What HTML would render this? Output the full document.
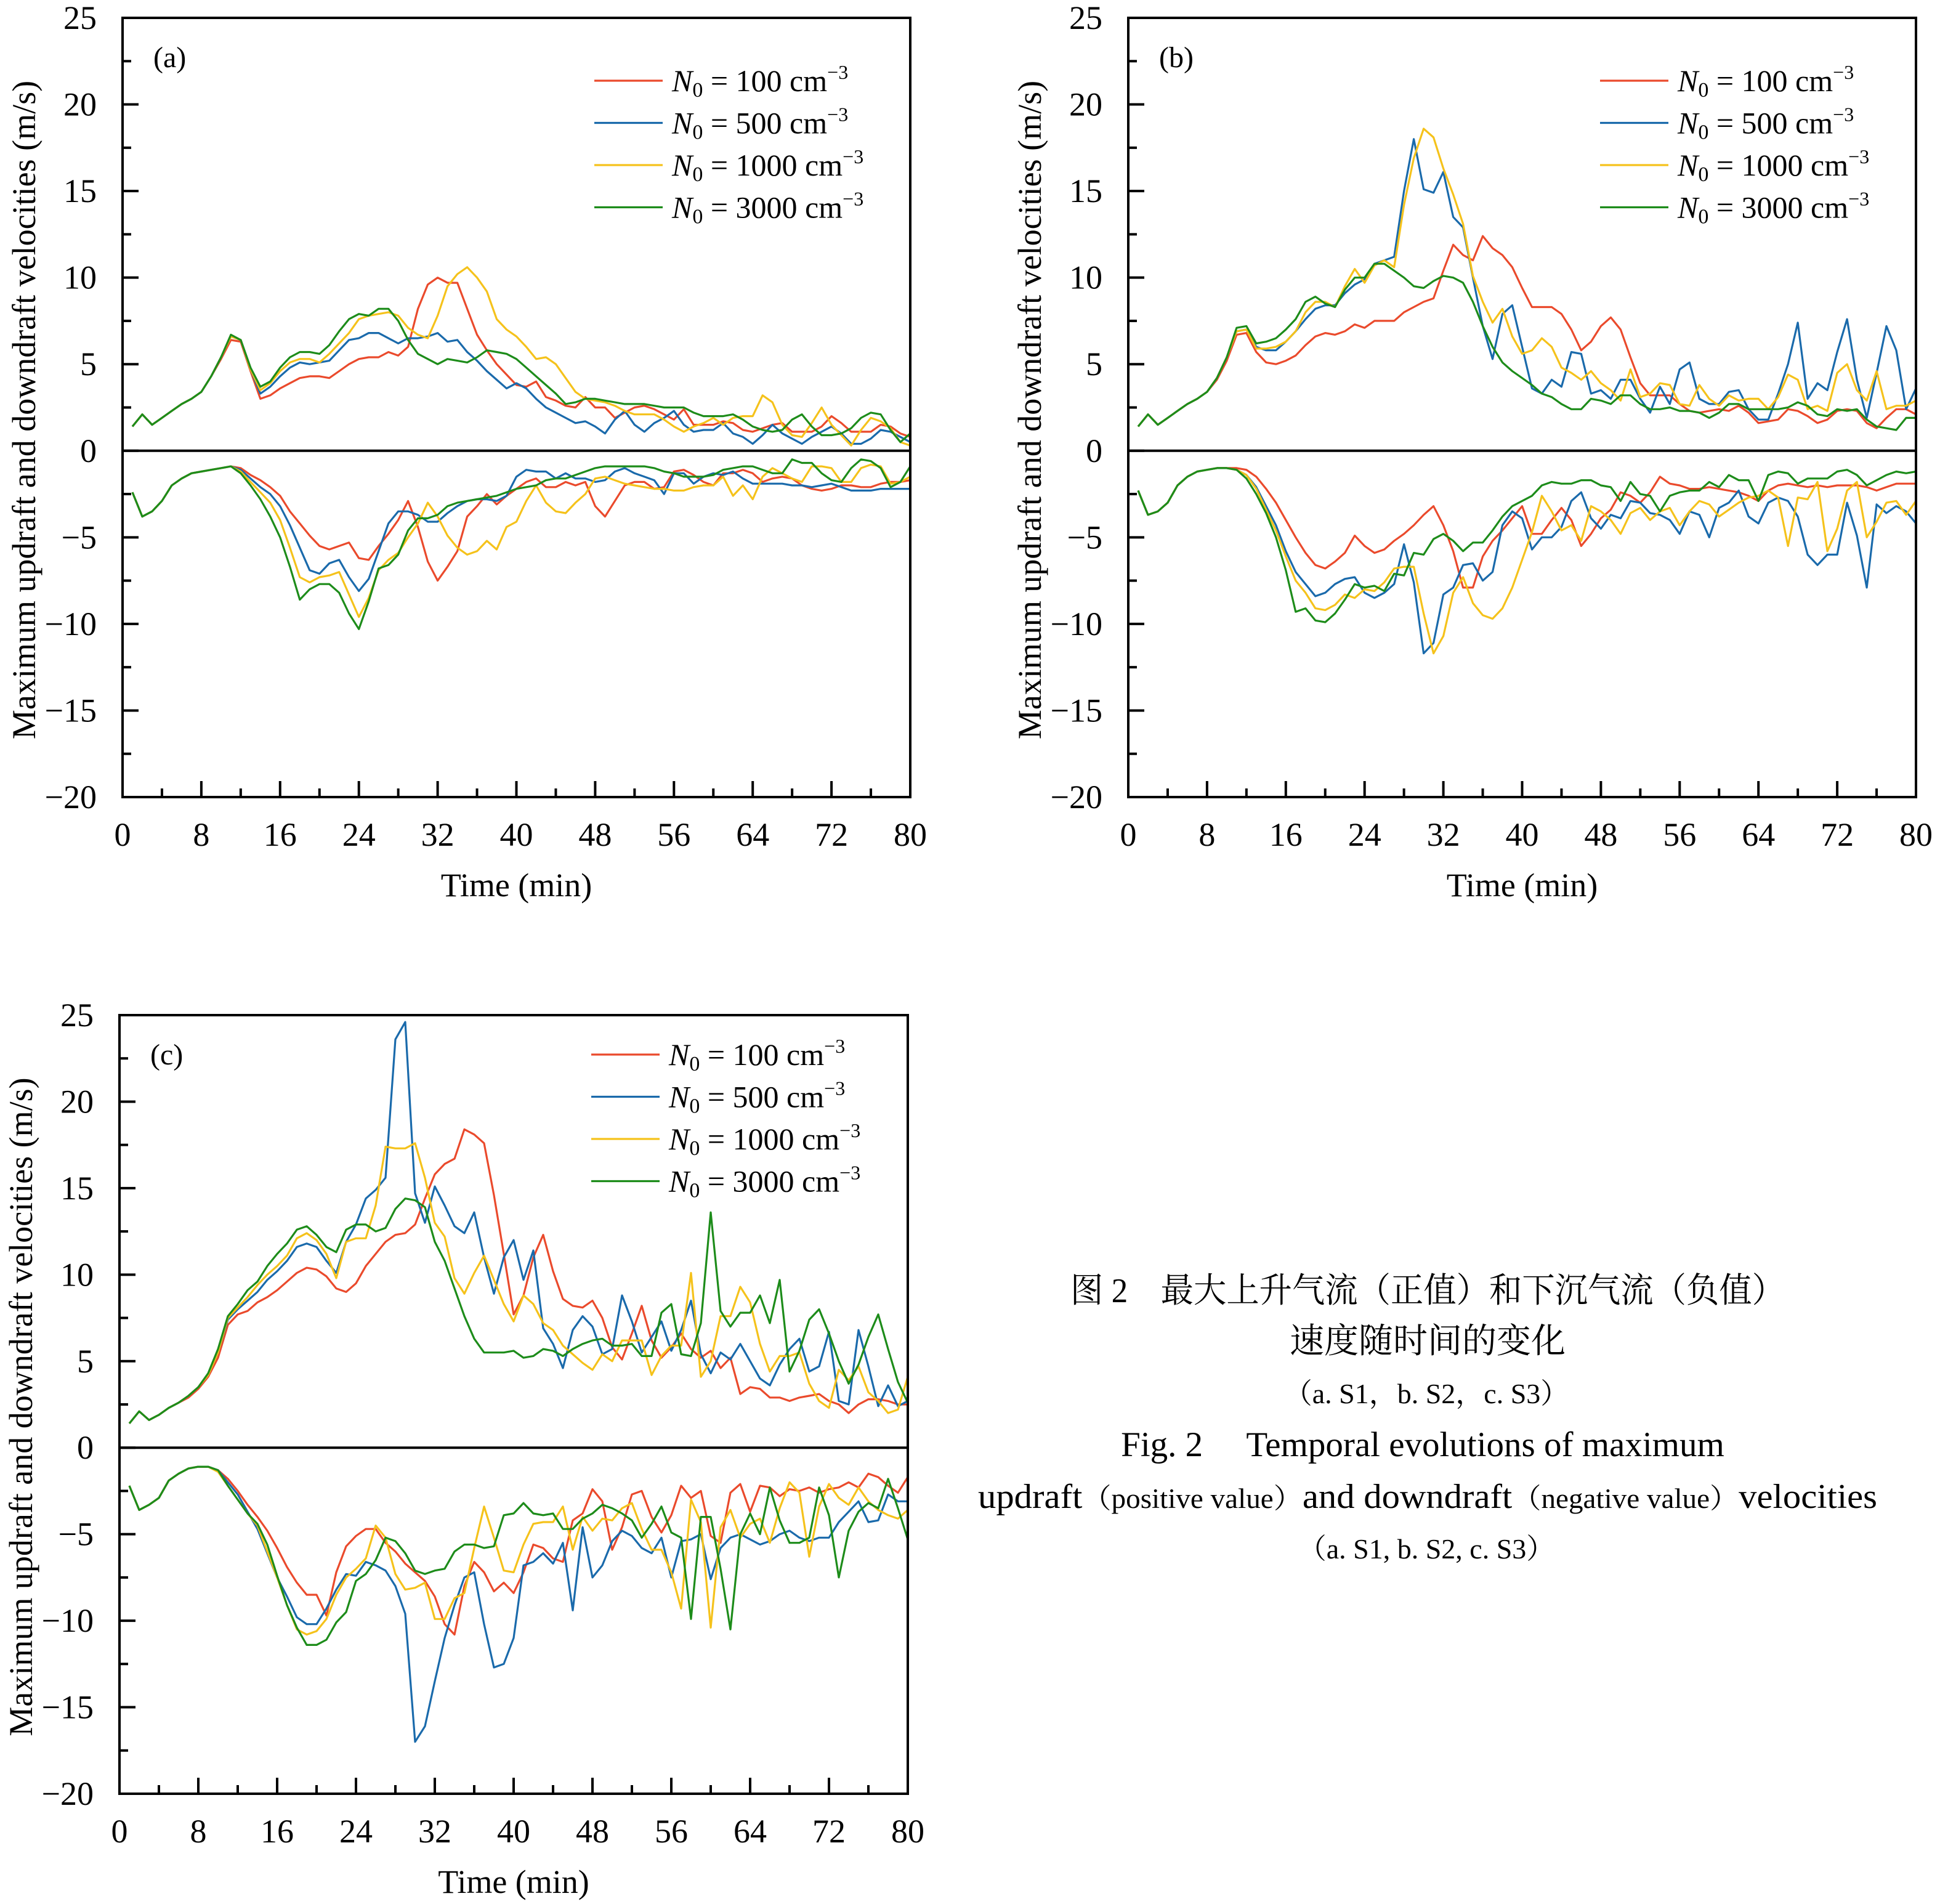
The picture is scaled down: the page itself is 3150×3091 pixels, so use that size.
<!DOCTYPE html>
<html><head><meta charset="utf-8">
<style>
html,body{margin:0;padding:0;background:#fff;}
svg{display:block;}
text,tspan{font-family:"Liberation Serif","Noto Serif CJK SC",serif;fill:#000;}
.cn{font-family:"Liberation Serif","Noto Serif CJK SC",serif;}
</style></head>
<body>
<svg id="fig" width="3150" height="3091" viewBox="0 0 3150 3091" xmlns="http://www.w3.org/2000/svg" font-family="Liberation Serif, Noto Serif CJK SC, serif">
<g id="caption" text-anchor="middle">
<text class="cn" x="2318" y="2114" font-size="56" textLength="1160" lengthAdjust="spacingAndGlyphs">图 2　最大上升气流（正值）和下沉气流（负值）</text>
<text class="cn" x="2318" y="2196" font-size="56">速度随时间的变化</text>
<text x="2316" y="2278" font-size="46">（a. S1，b. S2，c. S3）</text>
<text x="2310" y="2364" font-size="57">Fig. 2　 Temporal evolutions of maximum</text>
<text x="2318" y="2448" font-size="56" textLength="1460" lengthAdjust="spacingAndGlyphs">updraft<tspan font-size="45">（positive value）</tspan>and downdraft<tspan font-size="45">（negative value）</tspan>velocities</text>
<text x="2316" y="2530" font-size="46">（a. S1, b. S2, c. S3）</text>
</g>
</svg>
<script>
const times = [1,2,3,4,5,6,7,8,9,10,11,12,13,14,15,16,17,18,19,20,21,22,23,24,25,26,27,28,29,30,31,32,33,34,35,36,37,38,39,40,41,42,43,44,45,46,47,48,49,50,51,52,53,54,55,56,57,58,59,60,61,62,63,64,65,66,67,68,69,70,71,72,73,74,75,76,77,78,79,80];
const seriesNames = ["100","500","1000","3000"];
const yTicks = [25,20,15,10,5,0,-5,-10,-15,-20];
const xTicks = [0,8,16,24,32,40,48,56,64,72,80];

// Panel (a) S1
const aUp100 = [1.4,2.1,1.5,1.9,2.3,2.7,3.0,3.4,4.3,5.3, 6.4,6.3,4.6,3.0,3.2,3.6,3.9,4.2,4.3,4.3, 4.2,4.6,5.0,5.3,5.4,5.4,5.7,5.5,6.0,8.2, 9.6,10.0,9.7,9.7,8.2,6.7,5.8,5.0,4.4,3.8, 3.7,4.0,3.1,2.9,2.6,2.5,3.1,2.5,2.5,1.9, 2.2,2.5,2.6,2.4,2.1,1.8,2.4,1.5,1.5,1.5, 1.7,1.6,1.2,1.1,1.3,1.5,1.6,1.1,1.1,1.1, 1.4,2.0,1.6,1.1,1.1,1.1,1.5,1.4,1.0,0.8];
const aUp500 = [1.4,2.1,1.5,1.9,2.3,2.7,3.0,3.4,4.3,5.4, 6.6,6.4,4.7,3.3,3.7,4.3,4.8,5.1,5.0,5.1, 5.2,5.8,6.4,6.5,6.8,6.8,6.5,6.2,6.5,6.5, 6.6,6.8,6.3,6.4,5.7,5.2,4.6,4.1,3.6,3.9, 3.6,3.0,2.5,2.2,1.9,1.6,1.7,1.4,1.0,1.8, 2.3,1.5,1.1,1.6,1.9,2.3,1.5,1.1,1.2,1.2, 1.6,1.0,0.8,0.4,0.9,1.5,1.0,0.7,0.4,0.8, 1.1,1.4,1.0,0.4,0.4,0.7,1.2,1.1,0.8,0.5];
const aUp1000 = [1.4,2.1,1.5,1.9,2.3,2.7,3.0,3.4,4.3,5.4, 6.6,6.4,4.7,3.5,3.9,4.6,5.1,5.3,5.3,5.1, 5.6,6.2,6.8,7.6,7.8,7.9,8.0,7.8,7.1,6.7, 6.5,7.8,9.5,10.2,10.6,10.0,9.2,7.6,7.0,6.6, 6.0,5.3,5.4,5.0,4.2,3.4,3.0,2.9,2.8,2.6, 2.3,2.1,2.1,2.1,1.8,1.4,1.1,1.4,1.6,1.9, 1.5,1.9,2.0,2.0,3.2,2.8,1.5,0.9,0.8,1.6, 2.5,1.5,0.9,0.3,1.2,1.9,1.7,1.3,0.5,0.3];
const aUp3000 = [1.4,2.1,1.5,1.9,2.3,2.7,3.0,3.4,4.3,5.4, 6.7,6.4,4.8,3.7,4.0,4.8,5.4,5.7,5.7,5.6, 6.1,6.9,7.6,7.9,7.8,8.2,8.2,7.5,6.4,5.6, 5.3,5.0,5.3,5.2,5.1,5.4,5.8,5.7,5.6,5.3, 4.8,4.3,3.8,3.3,2.7,2.8,3.0,3.0,2.9,2.8, 2.7,2.7,2.7,2.6,2.5,2.5,2.5,2.2,2.0,2.0, 2.0,2.1,1.8,1.4,1.2,1.1,1.2,1.8,2.1,1.4, 0.9,0.9,1.0,1.3,1.9,2.2,2.1,1.2,0.5,1.0];
const aDn100 = [-2.4,-3.8,-3.5,-2.9,-2.0,-1.6,-1.3,-1.2,-1.1,-1.0, -0.9,-1.0,-1.4,-1.7,-2.1,-2.6,-3.5,-4.2,-4.9,-5.5, -5.7,-5.5,-5.3,-6.2,-6.3,-5.5,-4.8,-4.0,-2.9,-4.4, -6.4,-7.5,-6.7,-5.8,-3.8,-3.2,-2.5,-3.1,-2.6,-2.2, -1.8,-1.6,-2.1,-2.1,-1.8,-2.0,-1.8,-3.2,-3.8,-2.9, -2.0,-1.8,-1.8,-2.2,-2.1,-1.2,-1.1,-1.4,-1.8,-2.0, -1.3,-1.3,-1.1,-1.3,-1.8,-1.6,-1.5,-1.6,-2.0,-2.2, -2.3,-2.2,-2.0,-2.0,-2.1,-2.1,-1.9,-1.8,-1.8,-1.7];
const aDn500 = [-2.4,-3.8,-3.5,-2.9,-2.0,-1.6,-1.3,-1.2,-1.1,-1.0, -0.9,-1.1,-1.6,-2.1,-2.5,-3.2,-4.3,-5.6,-6.9,-7.1, -6.5,-6.3,-7.3,-8.1,-7.4,-5.8,-4.2,-3.5,-3.5,-3.7, -4.1,-4.1,-3.6,-3.2,-2.9,-2.8,-2.8,-2.9,-2.6,-1.5, -1.1,-1.2,-1.2,-1.6,-1.3,-1.6,-1.6,-1.8,-1.7,-1.2, -1.0,-1.3,-1.5,-1.7,-2.5,-1.3,-1.3,-1.9,-1.5,-1.3, -1.4,-1.2,-1.6,-1.9,-1.9,-1.9,-1.9,-2.0,-2.0,-2.1, -2.0,-1.9,-2.1,-2.3,-2.3,-2.3,-2.2,-2.2,-2.2,-2.2];
const aDn1000 = [-2.4,-3.8,-3.5,-2.9,-2.0,-1.6,-1.3,-1.2,-1.1,-1.0, -0.9,-1.2,-1.8,-2.4,-3.0,-4.0,-5.6,-7.3,-7.6,-7.3, -7.2,-7.0,-8.3,-9.6,-8.5,-6.9,-6.3,-5.9,-5.0,-4.2, -3.0,-3.8,-4.9,-5.6,-6.0,-5.8,-5.2,-5.7,-4.4,-4.1, -2.9,-2.0,-3.0,-3.5,-3.6,-3.0,-2.5,-1.6,-1.5,-1.7, -1.9,-2.0,-2.1,-2.2,-2.2,-2.3,-2.3,-2.1,-2.0,-2.0, -1.5,-2.6,-2.0,-2.8,-1.5,-1.0,-1.3,-1.6,-1.8,-0.9, -0.9,-1.0,-1.8,-1.8,-1.0,-0.8,-0.9,-1.9,-1.8,-1.5];
const aDn3000 = [-2.4,-3.8,-3.5,-2.9,-2.0,-1.6,-1.3,-1.2,-1.1,-1.0, -0.9,-1.3,-2.0,-2.8,-3.8,-5.0,-6.7,-8.6,-8.0,-7.7, -7.7,-8.2,-9.4,-10.3,-8.7,-6.8,-6.6,-6.0,-4.6,-3.9, -3.9,-3.7,-3.2,-3.0,-2.9,-2.8,-2.7,-2.6,-2.4,-2.2, -2.1,-2.0,-1.7,-1.6,-1.6,-1.4,-1.2,-1.0,-0.9,-0.9, -0.9,-0.9,-0.9,-1.0,-1.2,-1.3,-1.5,-1.5,-1.5,-1.4, -1.1,-1.0,-0.9,-0.9,-1.1,-1.3,-1.3,-0.5,-0.7,-0.7, -1.3,-1.7,-1.8,-1.0,-0.5,-0.6,-1.0,-2.1,-1.8,-0.9];

// Panel (b) S2
const bUp100 = [1.4,2.1,1.5,1.9,2.3,2.7,3.0,3.4,4.1,5.2, 6.7,6.8,5.7,5.1,5.0,5.2,5.5,6.1,6.6,6.8, 6.7,6.9,7.3,7.1,7.5,7.5,7.5,8.0,8.3,8.6, 8.8,10.4,11.9,11.3,11.0,12.4,11.7,11.3,10.6,9.4, 8.3,8.3,8.3,7.9,7.0,5.8,6.3,7.2,7.7,7.0, 5.4,3.9,3.2,3.2,3.2,2.7,2.3,2.2,2.3,2.4, 2.3,2.6,2.2,1.6,1.7,1.8,2.4,2.3,2.0,1.6, 1.8,2.3,2.4,2.3,1.6,1.3,1.9,2.4,2.4,2.1];
const bUp500 = [1.4,2.1,1.5,1.9,2.3,2.7,3.0,3.4,4.2,5.4, 6.9,7.0,6.0,5.8,5.8,6.3,6.9,7.6,8.2,8.4, 8.4,9.1,9.6,9.9,10.8,11.0,11.2,15.0,18.0,15.1, 14.9,16.1,13.5,12.9,10.0,7.2,5.3,7.9,8.4,6.0, 3.6,3.3,4.1,3.7,5.7,5.6,3.3,3.5,3.0,4.1, 4.1,3.0,2.2,3.7,2.7,4.7,5.1,3.0,2.7,2.7, 3.4,3.5,2.4,1.8,1.8,3.3,5.0,7.4,3.0,3.9, 3.5,5.7,7.6,4.1,1.9,4.5,7.2,5.8,2.4,3.6];
const bUp1000 = [1.4,2.1,1.5,1.9,2.3,2.7,3.0,3.4,4.2,5.4, 6.9,7.0,5.9,5.9,6.0,6.3,6.9,8.0,8.6,8.6, 8.3,9.5,10.5,9.7,10.7,11.0,10.6,14.2,16.9,18.6, 18.1,16.3,14.8,13.1,10.1,8.6,7.4,8.2,6.6,5.6, 5.8,6.5,6.0,4.8,4.5,4.1,4.6,3.9,3.5,2.9, 4.7,3.1,3.3,3.9,3.8,2.7,2.6,3.8,3.0,2.6, 3.2,2.9,3.0,3.0,2.4,3.1,4.4,4.1,2.4,2.6, 2.3,4.5,5.0,3.5,2.9,4.6,2.4,2.6,2.6,2.9];
const bUp3000 = [1.4,2.1,1.5,1.9,2.3,2.7,3.0,3.4,4.2,5.4, 7.1,7.2,6.2,6.3,6.5,7.0,7.6,8.6,8.9,8.5, 8.3,9.3,10.0,10.0,10.8,10.8,10.4,10.0,9.5,9.4, 9.8,10.1,10.0,9.7,8.6,7.2,6.0,5.1,4.6,4.2, 3.8,3.3,3.1,2.7,2.4,2.4,3.0,2.9,2.7,3.2, 3.2,2.7,2.4,2.4,2.5,2.3,2.3,2.2,1.9,2.2, 2.7,2.7,2.4,2.4,2.4,2.4,2.5,2.8,2.6,2.1, 2.0,2.4,2.3,2.4,1.8,1.4,1.3,1.2,1.9,1.9];
const bDn100 = [-2.3,-3.7,-3.5,-3.0,-2.0,-1.5,-1.2,-1.1,-1.0,-1.0, -1.0,-1.1,-1.5,-2.2,-3.0,-4.0,-5.0,-5.9,-6.6,-6.8, -6.4,-5.9,-4.9,-5.5,-5.9,-5.7,-5.2,-4.8,-4.3,-3.7, -3.2,-4.3,-5.8,-7.9,-7.9,-6.1,-5.2,-4.6,-3.9,-3.2, -4.8,-4.8,-4.0,-3.3,-4.0,-5.5,-4.8,-3.9,-3.4,-2.4, -2.6,-3.0,-2.4,-1.5,-1.9,-2.0,-2.2,-2.2,-2.1,-2.2, -2.3,-2.4,-2.6,-2.9,-2.3,-2.0,-1.9,-2.0,-2.1,-2.0, -2.1,-2.0,-2.0,-2.0,-2.1,-2.3,-2.1,-1.9,-1.9,-1.9];
const bDn500 = [-2.3,-3.7,-3.5,-3.0,-2.0,-1.5,-1.2,-1.1,-1.0,-1.0, -1.1,-1.4,-2.1,-3.2,-4.3,-5.8,-7.0,-7.7,-8.4,-8.2, -7.7,-7.4,-7.3,-8.2,-8.5,-8.2,-7.7,-5.4,-7.6,-11.7, -11.1,-8.3,-7.9,-6.6,-6.5,-7.5,-7.0,-4.3,-3.5,-3.9, -5.7,-5.0,-5.0,-4.4,-2.9,-2.4,-3.9,-4.5,-3.7,-3.9, -2.9,-3.0,-3.6,-3.7,-4.0,-4.8,-3.5,-3.7,-5.0,-3.3, -3.0,-2.3,-3.8,-4.2,-3.0,-2.7,-2.9,-3.8,-6.0,-6.6, -6.0,-6.0,-3.0,-4.9,-7.9,-3.1,-3.6,-3.2,-3.5,-4.2];
const bDn1000 = [-2.3,-3.7,-3.5,-3.0,-2.0,-1.5,-1.2,-1.1,-1.0,-1.0, -1.1,-1.4,-2.2,-3.4,-4.6,-6.1,-7.5,-8.2,-9.1,-9.2, -8.9,-8.3,-8.5,-8.0,-8.1,-7.6,-6.8,-6.7,-6.7,-9.4, -11.7,-10.7,-8.2,-7.3,-8.8,-9.5,-9.7,-9.1,-7.9,-6.3, -4.7,-2.6,-3.5,-4.6,-4.3,-5.2,-3.2,-3.5,-4.0,-4.8, -3.6,-3.3,-4.0,-3.5,-3.3,-4.3,-3.5,-2.9,-3.1,-3.8, -3.4,-3.0,-2.7,-2.6,-2.3,-2.7,-5.5,-2.7,-2.8,-1.8, -5.8,-4.5,-2.3,-1.8,-5.0,-4.1,-3.0,-2.9,-3.7,-2.9];
const bDn3000 = [-2.3,-3.7,-3.5,-3.0,-2.0,-1.5,-1.2,-1.1,-1.0,-1.0, -1.1,-1.6,-2.5,-3.6,-5.0,-6.9,-9.3,-9.1,-9.8,-9.9, -9.4,-8.6,-7.7,-7.9,-7.8,-8.1,-7.1,-7.2,-5.9,-6.0, -5.1,-4.8,-5.2,-5.8,-5.3,-5.3,-4.6,-3.8,-3.2,-2.9, -2.6,-2.0,-1.8,-1.9,-1.9,-1.7,-1.7,-2.0,-2.1,-2.9, -1.8,-2.5,-2.6,-3.5,-2.6,-2.4,-2.3,-2.3,-1.8,-2.1, -1.4,-1.7,-1.7,-2.9,-1.4,-1.2,-1.3,-1.9,-1.6,-1.6, -1.6,-1.2,-1.1,-1.4,-2.0,-1.7,-1.4,-1.2,-1.3,-1.2];

// Panel (c) S3
const cUp100 = [1.4,2.1,1.6,1.9,2.3,2.6,2.9,3.4,4.1,5.2, 7.1,7.7,7.9,8.4,8.7,9.1,9.6,10.1,10.4,10.3, 9.9,9.2,9.0,9.5,10.5,11.2,11.9,12.3,12.4,12.9, 14.4,15.8,16.4,16.7,18.4,18.1,17.6,14.6,11.2,7.7, 8.8,11.0,12.3,10.2,8.6,8.2,8.1,8.5,7.5,5.8, 5.1,6.6,8.2,6.2,5.2,5.8,6.6,5.7,5.2,5.6, 4.6,5.2,3.1,3.5,3.4,2.9,2.9,2.7,2.9,3.0, 3.1,2.7,2.5,2.0,2.5,2.8,2.8,2.7,2.5,2.5];
const cUp500 = [1.4,2.1,1.6,1.9,2.3,2.6,3.0,3.5,4.2,5.5, 7.4,8.0,8.5,9.0,9.7,10.2,10.8,11.6,11.8,11.6, 10.8,10.1,11.9,12.9,14.4,14.9,15.6,23.6,24.6,14.7, 13.0,15.1,14.0,12.8,12.4,13.6,11.0,8.9,11.0,12.0, 9.7,11.4,6.9,6.0,4.6,6.8,7.6,7.0,5.4,5.7, 8.8,7.3,5.5,6.4,7.3,5.6,6.8,8.5,5.4,4.3, 5.5,5.1,6.0,5.0,4.0,3.6,4.8,5.7,6.3,4.4, 4.7,6.7,2.7,2.5,6.8,4.7,2.4,3.6,2.4,2.7];
const cUp1000 = [1.4,2.1,1.6,1.9,2.3,2.6,3.0,3.5,4.2,5.5, 7.5,8.1,8.7,9.4,10.0,10.5,11.1,12.1,12.4,12.0, 11.2,9.8,11.9,12.1,12.1,14.0,17.4,17.3,17.3,17.6, 15.6,13.0,12.2,9.8,8.9,10.1,11.1,9.7,8.3,7.3, 8.8,8.3,7.2,6.8,5.9,5.4,4.9,4.5,5.4,5.0, 6.2,6.2,6.2,4.2,5.3,5.9,5.9,10.1,4.1,5.0, 7.6,7.6,9.3,8.4,6.0,4.4,5.3,5.3,5.5,3.7, 2.7,2.3,4.5,3.9,4.7,3.2,2.7,2.0,2.2,4.1];
const cUp3000 = [1.4,2.1,1.6,1.9,2.3,2.6,3.0,3.5,4.3,5.7, 7.6,8.3,9.1,9.6,10.5,11.2,11.8,12.6,12.8,12.3, 11.6,11.3,12.6,12.9,12.9,12.5,12.7,13.8,14.4,14.3, 13.9,11.9,10.8,9.2,7.6,6.3,5.5,5.5,5.5,5.6, 5.2,5.3,5.7,5.6,5.3,5.7,6.0,6.2,6.3,5.9, 5.9,6.0,5.3,5.3,7.8,8.3,5.4,5.3,7.2,13.6, 7.9,7.0,7.8,7.8,8.8,7.2,9.7,4.4,5.6,7.4, 8.0,6.6,5.0,3.7,4.8,6.4,7.7,5.7,3.8,2.6];
const cDn100 = [-2.2,-3.6,-3.3,-2.9,-1.9,-1.5,-1.2,-1.1,-1.1,-1.3, -1.8,-2.5,-3.3,-4.0,-4.8,-5.8,-6.9,-7.8,-8.5,-8.5, -9.7,-7.2,-5.7,-5.1,-4.7,-4.7,-5.5,-6.0,-6.7,-7.2, -7.7,-8.6,-10.2,-10.8,-8.0,-6.6,-7.2,-8.3,-7.8,-8.4, -7.2,-5.6,-5.8,-6.4,-6.6,-4.2,-3.8,-2.4,-3.1,-5.9, -4.6,-2.7,-2.5,-4.0,-4.9,-3.9,-2.2,-2.9,-2.5,-5.1, -5.5,-2.6,-2.1,-3.7,-2.2,-2.3,-2.8,-2.4,-2.5,-2.3, -2.6,-2.4,-2.3,-2.0,-2.3,-1.5,-1.7,-2.2,-2.6,-1.7];
const cDn500 = [-2.2,-3.6,-3.3,-2.9,-1.9,-1.5,-1.2,-1.1,-1.1,-1.3, -2.0,-2.7,-3.7,-4.7,-6.1,-7.5,-8.6,-9.8,-10.2,-10.2, -9.3,-8.2,-7.3,-7.4,-6.6,-6.8,-7.1,-8.0,-9.6,-17.0, -16.1,-13.5,-11.0,-9.1,-7.5,-7.2,-10.2,-12.7,-12.5,-11.0, -6.8,-6.6,-6.1,-6.7,-5.5,-9.4,-4.6,-7.5,-6.8,-5.4, -4.8,-5.1,-5.8,-6.1,-5.2,-7.5,-5.4,-5.3,-5.0,-7.6, -5.8,-5.2,-5.0,-5.3,-5.6,-5.4,-5.0,-4.8,-5.2,-5.4, -5.2,-5.2,-4.3,-3.7,-3.1,-4.3,-4.2,-2.7,-3.1,-3.1];
const cDn1000 = [-2.2,-3.6,-3.3,-2.9,-1.9,-1.5,-1.2,-1.1,-1.1,-1.4, -2.2,-3.0,-3.8,-4.5,-6.0,-7.5,-9.1,-10.5,-10.8,-10.6, -9.9,-8.5,-7.5,-7.0,-6.4,-4.5,-5.2,-7.3,-8.2,-8.1, -7.8,-9.9,-9.9,-8.7,-8.4,-5.8,-3.4,-5.2,-7.1,-7.2, -5.6,-4.4,-4.3,-4.3,-3.4,-5.9,-4.0,-4.8,-4.1,-4.2, -3.5,-3.2,-4.7,-5.9,-5.9,-7.2,-9.3,-3.0,-4.3,-10.4, -4.6,-3.6,-5.2,-4.4,-4.1,-5.5,-3.5,-2.0,-2.6,-6.3, -3.4,-2.1,-2.9,-3.3,-2.3,-3.1,-3.6,-3.9,-4.1,-3.6];
const cDn3000 = [-2.2,-3.6,-3.3,-2.9,-1.9,-1.5,-1.2,-1.1,-1.1,-1.3, -2.2,-3.0,-3.8,-4.4,-5.6,-7.4,-9.1,-10.4,-11.4,-11.4, -11.1,-10.1,-9.5,-7.7,-7.3,-6.5,-5.2,-5.4,-6.1,-7.1, -7.3,-7.1,-7.0,-6.0,-5.6,-5.6,-5.8,-5.7,-3.9,-3.8, -3.2,-3.8,-3.9,-3.8,-4.7,-4.7,-4.1,-3.8,-3.3,-3.5, -3.8,-4.2,-5.2,-4.4,-3.4,-4.9,-5.2,-9.9,-4.0,-4.0, -7.0,-10.5,-5.0,-3.8,-5.0,-2.3,-4.2,-5.5,-5.5,-5.2, -2.3,-3.9,-7.5,-4.8,-3.7,-3.2,-3.5,-1.8,-3.5,-5.3];

const colors = ["#ea4a2c","#1a6aab","#f5c21b","#1d8c1a"];
const NS = "http://www.w3.org/2000/svg";
const svg = document.getElementById("fig");
const SERIF = "Liberation Serif, serif";

function mk(tag, attrs, parent){
  const e = document.createElementNS(NS, tag);
  for (const k in attrs) e.setAttribute(k, attrs[k]);
  (parent||svg).appendChild(e);
  return e;
}

function drawPanel(id, box, ups, downs, label, legendOffset){
  const g = mk("g", {"font-family": SERIF});
  
  
  const sx = t => box.x0 + (t - 0) / 80 * (box.x1 - box.x0);
  const sy = v => box.y0 + (25 - v) / 45 * (box.y1 - box.y0);

  const sg = mk("g", {fill:"none","stroke-width":"3.2","stroke-linejoin":"round"}, g);
  
  
  for (let s = 0; s < 4; s++){
    [ups[s], downs[s]].forEach((arr, k) => {
      let d = "";
      arr.forEach((v, i) => { d += (i ? "L" : "M") + sx(times[i]).toFixed(1) + "," + sy(v).toFixed(1); });
      const p = mk("path", {d: d, stroke: colors[s]}, sg);
      
      
    });
  }

  const z = mk("line", {x1:box.x0, x2:box.x1, y1:sy(0), y2:sy(0), stroke:"#000","stroke-width":"4"}, g);
  
  

  const fr = mk("rect", {x:box.x0, y:box.y0, width:box.x1-box.x0, height:box.y1-box.y0, fill:"none", stroke:"#000","stroke-width":"4"}, g);
  
  

  for (let v = -20; v <= 25; v += 2.5){
    const major = Math.abs(v % 5) < 1e-6;
    const len = major ? 26 : 14;
    const t = mk("line", {x1:box.x0, x2:box.x0+len, y1:sy(v), y2:sy(v), stroke:"#000","stroke-width":"4"}, g);
    
    
  }
  yTicks.forEach(v => {
    const t = mk("text", {x:box.x0-42, y:sy(v)+18, "text-anchor":"end","font-size":"54","font-family":SERIF}, g);
    t.textContent = v < 0 ? "\u2212" + Math.abs(v) : String(v);
    
    
  });
  for (let tt = 4; tt < 80; tt += 4){
    const major = tt % 8 === 0;
    const len = major ? 26 : 14;
    const t = mk("line", {x1:sx(tt), x2:sx(tt), y1:box.y1, y2:box.y1-len, stroke:"#000","stroke-width":"4"}, g);
    
    
  }
  xTicks.forEach(v => {
    const t = mk("text", {x:sx(v), y:box.y1+79, "text-anchor":"middle","font-size":"54","font-family":SERIF}, g);
    t.textContent = String(v);
    
    
  });
  const xt = mk("text", {x:(box.x0+box.x1)/2, y:box.y1+161, "text-anchor":"middle","font-size":"54","font-family":SERIF}, g);
  xt.textContent = "Time (min)";
  
  
  const cy = (box.y0+box.y1)/2 + 4;
  const yt = mk("text", {x:box.x0-142, y:cy, "text-anchor":"middle","font-size":"54","font-family":SERIF, transform:"rotate(-90 " + (box.x0-142) + " " + cy + ")"}, g);
  yt.textContent = "Maximum updraft and downdraft velocities (m/s)";
  
  
  const pl = mk("text", {x:box.x0+50, y:box.y0+80, "font-size":"48","font-family":SERIF}, g);
  pl.textContent = label;
  
  
  const lg = mk("g", {}, g);
  
  
  for (let s = 0; s < 4; s++){
    const ly = box.y0 + legendOffset + s*68.5;
    const ll = mk("line", {x1:box.x0+766, x2:box.x0+877, y1:ly, y2:ly, stroke:colors[s], "stroke-width":"3.2"}, lg);
    
    
    const lt = mk("text", {x:box.x0+892, y:ly+17, "font-size":"50","font-family":SERIF}, lg);
    
    
    const a = mk("tspan", {"font-style":"italic"}, lt); a.textContent = "N";
    const b = mk("tspan", {"font-size":"34", dy:"9"}, lt); b.textContent = "0";
    const c = mk("tspan", {dy:"-9"}, lt); c.textContent = " = " + seriesNames[s] + " cm";
    const d = mk("tspan", {"font-size":"32", dy:"-20"}, lt); d.textContent = "\u22123";
  }
}

drawPanel("a", {x0:199,x1:1478,y0:29,y1:1294}, [aUp100,aUp500,aUp1000,aUp3000], [aDn100,aDn500,aDn1000,aDn3000], "(a)", 102);
drawPanel("b", {x0:1832,x1:3111,y0:29,y1:1294}, [bUp100,bUp500,bUp1000,bUp3000], [bDn100,bDn500,bDn1000,bDn3000], "(b)", 102);
drawPanel("c", {x0:194,x1:1474,y0:1648,y1:2912}, [cUp100,cUp500,cUp1000,cUp3000], [cDn100,cDn500,cDn1000,cDn3000], "(c)", 64);
</script>
</body></html>
